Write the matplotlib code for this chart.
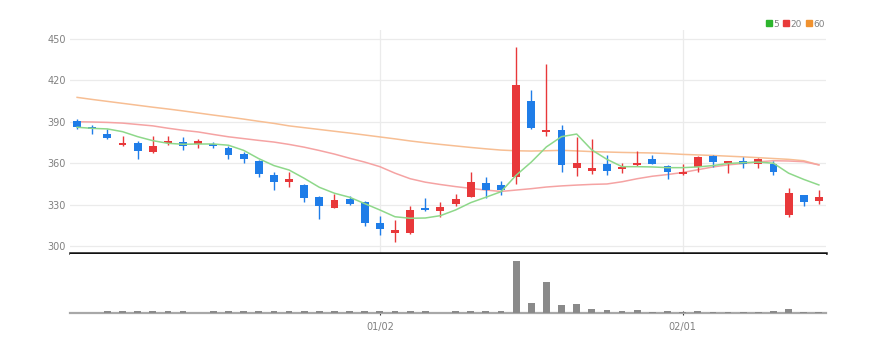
import numpy as np
import matplotlib
matplotlib.use("Agg")
import matplotlib.pyplot as plt
from matplotlib.lines import Line2D

plt.rcParams['font.family'] = ['Liberation Sans Narrow', 'DejaVu Sans']

# daily candles (open, high, low, close)
opens = [390.5, 386.5, 381, 373.5, 375, 368, 374.5, 375.5, 374, 374,
         371.5, 367, 362, 352, 346.5, 344.5, 336, 328, 334, 332,
         317, 309.5, 309.5, 328, 326, 331, 336, 346, 344.5, 350.5,
         405.5, 383, 384, 356.5, 354.5, 359.5, 356, 359, 363.5, 358,
         352.5, 357.5, 365.5, 360, 362, 359.5, 359.5, 323, 337, 333]
highs = [392, 388, 385, 380, 376, 380, 380, 379, 378, 375.5,
         373, 368, 362.5, 354, 353.5, 345, 336.5, 338, 336.5, 333,
         322, 319.5, 329.5, 335, 332, 338, 353.5, 350, 347, 444,
         413, 432, 388, 379.5, 377.5, 366.5, 360.5, 369, 366, 359,
         359.5, 365.5, 366.5, 361.5, 364.5, 364, 362, 342.5, 337.5, 340.5]
lows = [385, 381, 377.5, 372.5, 363, 367.5, 373.5, 370, 371.5, 371.5,
        363, 360, 350, 340.5, 343, 332.5, 320, 328, 330, 315,
        308, 303, 309, 326, 321.5, 329.5, 335.5, 335, 337, 345.5,
        385, 380, 354, 351, 352.5, 351.5, 353, 358, 359.5, 348.5,
        351.5, 354, 357.5, 353, 356.5, 357, 351.5, 321.5, 329.5, 331]
closes = [386.5, 385, 378.5, 374.5, 369, 373, 376, 373, 376.5, 372.5,
          366, 363.5, 352.5, 346.5, 348.5, 335, 329.5, 333.5, 331, 317,
          313, 312, 326.5, 326.5, 328.5, 334.5, 346.5, 341, 341, 416.5,
          386, 384.5, 359, 360.5, 356.5, 354.5, 357.5, 360.5, 359.5, 353.5,
          354, 365, 361, 361.5, 359.5, 363.5, 354, 339, 332.5, 335.5]
volumes = [0.5, 0.5, 3, 3, 3.5, 3, 3, 3, 0.5, 3,
           3, 3.5, 3.5, 3, 3, 3, 3, 3, 3, 3,
           3.5, 3, 3.5, 3, 0.5, 3, 3, 3, 3, 100,
           20, 60, 15, 17, 7, 5, 4, 5, 2.5, 4.5,
           2.5, 4, 2.5, 2.5, 2.5, 2.5, 4.5, 8, 2.5, 2.5]

# moving averages as drawn
ma5 = [386.2, 385.4, 385.0, 383.0, 379.4, 376.5, 374.6, 373.9, 374.1, 374.1,
       373.2, 369.5, 363.5, 358.5, 355.3, 349.3, 342.8, 338.5, 335.6, 331.0,
       326.4, 321.5, 320.4, 320.6, 322.3, 326.4, 331.7, 335.6, 339.6, 351.5,
       361.0, 372.0, 379.4, 381.3, 369.8, 363.0, 357.7, 357.7, 357.5, 357.0,
       357.0, 357.5, 358.5, 360.0, 360.6, 361.0, 360.2, 353.0, 348.5, 344.5]
ma20 = [390.2, 390.0, 389.7, 389.2, 388.2, 387.2, 385.5, 384.0, 382.8, 381.0,
        379.3, 378.0, 376.7, 375.5, 373.8, 371.8, 369.4, 366.8, 363.8, 361.0,
        357.7, 353.0, 349.0, 346.5, 344.8, 343.3, 342.0, 340.8, 339.8, 340.8,
        341.8, 343.0, 343.8, 344.4, 344.9, 345.2, 346.8, 349.0, 350.8, 352.0,
        353.5, 355.5, 357.5, 359.0, 360.0, 361.2, 362.0, 361.8, 361.3, 359.0]
ma60 = [407.8, 406.3, 404.9, 403.5, 402.1, 400.7, 399.4, 398.0, 396.5, 395.0,
        393.6, 392.1, 390.5, 389.0, 387.2, 385.9, 384.6, 383.3, 382.0, 380.6,
        379.2, 377.8, 376.3, 375.0, 373.8, 372.7, 371.6, 370.6, 369.7, 369.2,
        369.0, 369.2, 369.5, 369.1, 368.6, 368.3, 368.0, 367.8, 367.6, 367.2,
        366.6, 366.2, 365.8, 365.3, 364.8, 364.2, 363.6, 363.0, 362.0, 359.0]

tick_pos = [20, 40]
tick_labels = ['01/02', '02/01']
y_ticks = [300, 330, 360, 390, 420, 450]

UP = '#E8383A'
DOWN = '#1F7DE8'
GRID = '#EBEBEB'
TXT = '#808080'

fig = plt.figure(figsize=(8.82, 3.52), dpi=100)
ax = fig.add_axes([70 / 882, 1 - 253 / 352, 756 / 882, 223 / 352])
axv = fig.add_axes([70 / 882, 1 - 313 / 352, 756 / 882, 59 / 352], sharex=ax)

x = np.arange(len(opens))
o = np.array(opens); c = np.array(closes)
up = c >= o
colors = np.where(up, UP, DOWN)

ax.vlines(x, lows, highs, colors=colors, linewidth=1.0, zorder=3)
body_bottom = np.minimum(o, c)
body_h = np.maximum(np.abs(c - o), 0.6)
ax.bar(x, body_h, bottom=body_bottom, width=0.52, color=colors, linewidth=0, zorder=4)

ax.plot(x, ma60, color='#F7BE93', lw=1.1, zorder=2)
ax.plot(x, ma20, color='#F5A3A3', lw=1.1, zorder=2)
ax.plot(x, ma5, color='#8ED88A', lw=1.1, zorder=5)

ax.set_xlim(-0.47, len(x) - 0.53)
ax.set_ylim(295.3, 456.5)
ax.set_yticks(y_ticks)
ax.set_yticklabels([str(v) for v in y_ticks], color=TXT, fontsize=7)
ax.tick_params(axis='y', length=0, pad=3)
ax.tick_params(axis='x', length=0, labelbottom=False)
ax.set_xticks(tick_pos)
ax.grid(True, color=GRID, lw=0.9)
ax.set_axisbelow(True)
for s in ['top', 'right', 'left']:
    ax.spines[s].set_visible(False)
ax.spines['bottom'].set_color('#111111')
ax.spines['bottom'].set_linewidth(1.8)

axv.bar(x, volumes, width=0.45, color='#8A8A8A', linewidth=0, zorder=3)
axv.set_ylim(0, 113.5)
axv.set_yticks([])
axv.set_xticks(tick_pos)
axv.set_xticklabels(tick_labels, color=TXT, fontsize=7)
axv.tick_params(axis='x', length=3, width=0.8, color='#333333', direction='inout', pad=5)
for s in ['top', 'right', 'left']:
    axv.spines[s].set_visible(False)
axv.spines['bottom'].set_color('#A8A8A8')
axv.spines['bottom'].set_linewidth(1.6)

handles = [Line2D([], [], marker='s', ls='', color=col, markersize=4)
           for col in ['#2DB52D', '#E83B3B', '#F0922F']]
fig.legend(handles, ['5', '20', '60'], loc='upper right', bbox_to_anchor=(828 / 882, 1 - 16 / 352),
           ncol=3, frameon=False, fontsize=6.5, handletextpad=0.05, columnspacing=0.4,
           handlelength=0.8, labelcolor=TXT, borderaxespad=0)

fig.savefig('out.png', dpi=100, facecolor='white')
